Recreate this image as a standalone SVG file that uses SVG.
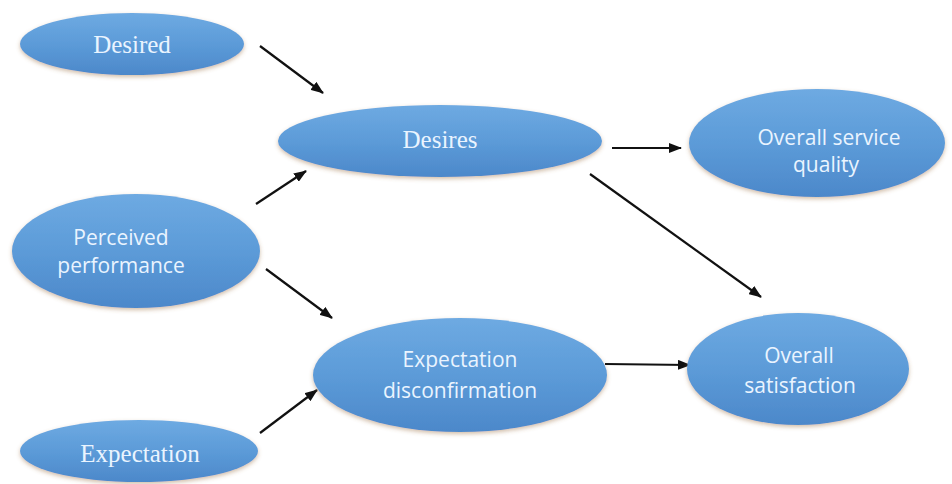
<svg xmlns="http://www.w3.org/2000/svg" width="952" height="484" viewBox="0 0 952 484">
<defs>
<linearGradient id="g" x1="0" y1="0" x2="0" y2="1">
<stop offset="0" stop-color="#6eaae2"/>
<stop offset="0.5" stop-color="#5c9bd8"/>
<stop offset="1" stop-color="#4c88ca"/>
</linearGradient>
<filter id="sh" x="-10%" y="-20%" width="120%" height="150%">
<feDropShadow dx="0" dy="2" stdDeviation="2" flood-color="#9a7040" flood-opacity="0.45"/>
</filter>
<marker id="ah" viewBox="0 0 13 10" refX="12" refY="5" markerWidth="13" markerHeight="10" markerUnits="userSpaceOnUse" orient="auto">
<path d="M0,0 L13,5 L0,10 Z" fill="#111"/>
</marker>
<style>
.n{fill:url(#g);filter:url(#sh)}
.ts{font-family:"Liberation Serif","Times New Roman",serif;font-size:25px;fill:#eaf4ff;text-anchor:middle}
.tn{font-family:"Open Sans","Noto Sans",sans-serif;font-size:21px;fill:#eaf4ff;text-anchor:middle}
.c{stroke:#111;stroke-width:2.2;fill:none;marker-end:url(#ah)}
</style>
</defs>
<rect width="952" height="484" fill="#ffffff"/>
<g id="connectors">
<line class="c" x1="260" y1="46" x2="323" y2="93"/>
<line class="c" x1="256" y1="204" x2="306" y2="171"/>
<line class="c" x1="266" y1="269" x2="332" y2="318"/>
<line class="c" x1="260" y1="433" x2="317" y2="390"/>
<line class="c" x1="612" y1="148" x2="681" y2="148"/>
<line class="c" x1="590" y1="174" x2="761" y2="297"/>
<line class="c" x1="605" y1="364" x2="690" y2="365"/>
</g>
<g id="desired">
<ellipse class="n" cx="132" cy="44" rx="112" ry="31"/>
<text class="ts" x="132" y="53">Desired</text>
</g>
<g id="desires">
<ellipse class="n" cx="440" cy="141" rx="162" ry="36"/>
<text class="ts" x="440" y="148">Desires</text>
</g>
<g id="overall-service-quality">
<ellipse class="n" cx="817" cy="143" rx="128" ry="54"/>
<text class="tn" x="829" y="145">Overall service</text>
<text class="tn" x="826" y="172">quality</text>
</g>
<g id="perceived-performance">
<ellipse class="n" cx="136" cy="251" rx="124" ry="57"/>
<text class="tn" x="121" y="245">Perceived</text>
<text class="tn" x="121" y="273">performance</text>
</g>
<g id="expectation-disconfirmation">
<ellipse class="n" cx="460" cy="375" rx="147" ry="57"/>
<text class="tn" x="460" y="367">Expectation</text>
<text class="tn" x="460" y="398">disconfirmation</text>
</g>
<g id="overall-satisfaction">
<ellipse class="n" cx="798" cy="369" rx="111" ry="56"/>
<text class="tn" x="799" y="363">Overall</text>
<text class="tn" x="800" y="393">satisfaction</text>
</g>
<g id="expectation">
<ellipse class="n" cx="139" cy="451" rx="119" ry="31"/>
<text class="ts" x="140" y="462">Expectation</text>
</g>
</svg>
